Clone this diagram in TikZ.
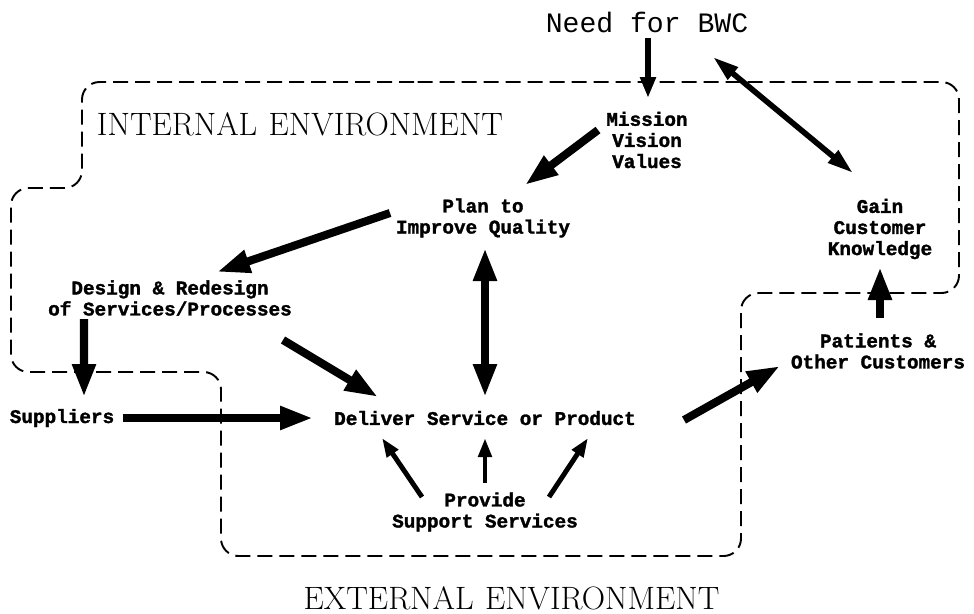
\documentclass[tikz,border=0pt]{standalone}
\usepackage{fontspec}
\newfontfamily\boxfont{Liberation Mono}[BoldFeatures={FakeBold=1.6}]
\usetikzlibrary{positioning,arrows.meta,calc}

\begin{document}
\begin{tikzpicture}[node distance=2cm]
\tikzstyle{block} = [align=center, inner sep=2pt, font=\boxfont\bfseries\fontsize{11}{12}\selectfont]
\tikzstyle{envlabel} = [font=\fontsize{18.4}{22}\selectfont]
\tikzstyle{boundary} = [line width=1.1pt, dash pattern=on 0.3cm off 0.14cm, rounded corners=0.35cm]

\tikzstyle{bigarrow} = [line width=4.6pt, -{Triangle[length=0.66cm,width=0.44cm]}]
\tikzstyle{bigdbl} = [line width=4.6pt, {Triangle[length=0.66cm,width=0.44cm]}-{Triangle[length=0.66cm,width=0.44cm]}]
\tikzstyle{arrow} = [line width=3.2pt, -{Triangle[length=0.42cm,width=0.3cm]}]
\tikzstyle{dblarrow} = [line width=3.2pt, {Triangle[length=0.52cm,width=0.3cm]}-{Triangle[length=0.52cm,width=0.3cm]}]
\tikzstyle{smallarrow} = [line width=2.8pt, -{Triangle[length=0.38cm,width=0.26cm]}]

\useasboundingbox (0,0) rectangle (19.48,-12.26);

\node (dlv) [block] at (9.70,-8.36) {Deliver Service or Product};
\node (prov) [block, below of=dlv, yshift=0.12cm] {Provide\\Support Services};
\node (plan) [block, above of=dlv, yshift=2cm, xshift=-0.04cm] {Plan to\\Improve Quality};
\node (miss) [block, above of=plan, xshift=3.28cm, yshift=-0.44cm] {Mission\\Vision\\Values};
\node (need) [above of=miss, yshift=0.36cm, font=\boxfont\fontsize{16}{18}\selectfont] {Need for BWC};
\node (gain) [block, right of=plan, xshift=5.94cm, yshift=-0.22cm] {Gain\\Customer\\Knowledge};
\node (pat) [block, below of=gain, yshift=-0.44cm, xshift=-0.04cm] {Patients \&\\Other Customers};
\node (design) [block, left of=plan, xshift=-4.26cm, yshift=-1.60cm] {Design \& Redesign\\of Services/Processes};
\node (supp) [block, left of=dlv, xshift=-6.46cm] {Suppliers};

\node (intlbl) [envlabel] at (6.0,-2.49) {INTERNAL\hspace{0.35em}ENVIRONMENT};
\node (extlbl) [envlabel] at (10.23,-11.96) {EXTERNAL\hspace{0.35em}ENVIRONMENT};

\draw [boundary] (8,-1.64) -- (19.18,-1.64) -- (19.18,-5.86) -- (14.82,-5.86)
  -- (14.82,-11.12) -- (4.42,-11.12) -- (4.42,-7.44) -- (0.22,-7.44)
  -- (0.22,-3.76) -- (1.64,-3.76) -- (1.64,-1.64) -- cycle;

\draw [arrow] ($(need)+(0.02,-0.32)$) -- ($(miss)+(0.02,0.84)$);
\draw [dblarrow] ($(need)+(1.32,-0.70)$) -- ($(gain)+(-0.54,1.12)$);
\draw [bigarrow] ($(miss)+(-0.98,0.20)$) -- ($(plan)+(0.84,0.66)$);
\draw [bigarrow] ($(plan)+(-1.86,0.10)$) -- ($(design)+(0.94,0.52)$);
\draw [bigdbl] ($(plan)+(0.04,-0.60)$) -- ($(dlv)+(0,0.42)$);

\draw [bigarrow] ($(design)+(-1.72,-0.42)$) -- ($(supp)+(0.44,0.42)$);
\draw [bigarrow] ($(design)+(2.26,-0.84)$) -- ($(dlv)+(-2.14,0.42)$);
\draw [bigarrow] ($(supp)+(1.22,0)$) -- ($(dlv)+(-3.44,0)$);

\draw [smallarrow] ($(prov)+(-1.26,0.30)$) -- ($(dlv)+(-2.06,-0.40)$);
\draw [smallarrow] ($(prov)+(0,0.58)$) -- ($(dlv)+(0,-0.40)$);
\draw [smallarrow] ($(prov)+(1.28,0.30)$) -- ($(dlv)+(2.06,-0.40)$);

\draw [bigarrow] ($(dlv)+(3.98,-0.04)$) -- ($(pat)+(-1.96,-0.30)$);
\draw [bigarrow] ($(pat)+(0.04,0.66)$) -- ($(gain)+(0,-0.76)$);
\end{tikzpicture}
\end{document}
